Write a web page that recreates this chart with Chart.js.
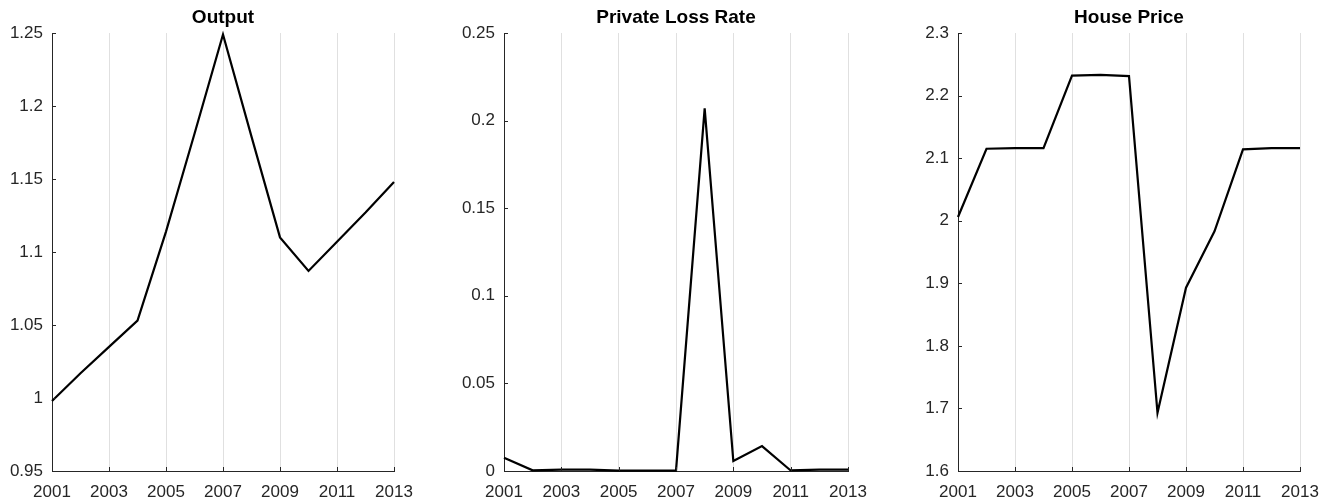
<!DOCTYPE html>
<html>
<head>
<meta charset="utf-8">
<script src="https://cdn.jsdelivr.net/npm/chart.js@4"></script>
<style>
  body { margin: 0; background: #fff; }
  .panel { position: absolute; top: 0; width: 445px; height: 504px; }
</style>
</head>
<body>
<div class="panel" style="left:0px"><canvas id="outputChart" width="445" height="504"></canvas></div>
<div class="panel" style="left:445px"><canvas id="lossChart" width="445" height="504"></canvas></div>
<div class="panel" style="left:890px"><canvas id="houseChart" width="445" height="504"></canvas></div>
<script>
// Data
const years = [2001, 2002, 2003, 2004, 2005, 2006, 2007, 2008, 2009, 2010, 2011, 2012, 2013];
const yearTicks = [2001, 2003, 2005, 2007, 2009, 2011, 2013];

const outputValues = [0.998, 1.017, 1.035, 1.053, 1.114, 1.181, 1.249, 1.179, 1.110, 1.087, 1.107, 1.127, 1.148];
const lossValues = [0.0076, 0.0004, 0.0008, 0.0008, 0.0002, 0.0002, 0.0002, 0.207, 0.0057, 0.0142, 0.0003, 0.0008, 0.0008];
const houseValues = [2.006, 2.115, 2.116, 2.116, 2.232, 2.233, 2.231, 1.693, 1.893, 1.983, 2.114, 2.116, 2.116];

const outputTicks = [0.95, 1, 1.05, 1.1, 1.15, 1.2, 1.25];
const lossTicks = [0, 0.05, 0.1, 0.15, 0.2, 0.25];
const houseTicks = [1.6, 1.7, 1.8, 1.9, 2, 2.1, 2.2, 2.3];

const AXIS_COLOR = '#262626';
const GRID_COLOR = '#e0e0e0';
const FONT = 'Liberation Sans, Arial, Helvetica, sans-serif';

// MATLAB style ticks point into the plot area
const inwardTicks = {
    id: 'inwardTicks',
    afterDraw(chart) {
        const ctx = chart.ctx;
        const xs = chart.scales.x;
        const ys = chart.scales.y;
        const area = chart.chartArea;
        ctx.save();
        ctx.strokeStyle = AXIS_COLOR;
        ctx.lineWidth = 1;
        ctx.beginPath();
        xs.ticks.forEach(t => {
            const px = Math.round(xs.getPixelForValue(t.value)) + 0.5;
            ctx.moveTo(px, area.bottom);
            ctx.lineTo(px, area.bottom - 4);
        });
        ys.ticks.forEach(t => {
            const py = Math.round(ys.getPixelForValue(t.value)) + 0.5;
            ctx.moveTo(area.left, py);
            ctx.lineTo(area.left + 4, py);
        });
        ctx.stroke();
        ctx.restore();
    }
};

function makePanel(canvasId, title, values, ticks, yAxisWidth, rightPad) {
    const ctx = document.getElementById(canvasId).getContext('2d');
    return new Chart(ctx, {
        type: 'line',
        data: {
            datasets: [{
                data: years.map((yr, i) => ({ x: yr, y: values[i] })),
                borderColor: '#000',
                borderWidth: 2.2,
                pointRadius: 0,
                tension: 0,
                fill: false,
                clip: false
            }]
        },
        options: {
            responsive: false,
            animation: false,
            devicePixelRatio: 1,
            layout: {
                padding: { left: 0, right: rightPad, top: 0, bottom: 0 }
            },
            plugins: {
                legend: { display: false },
                tooltip: { enabled: false },
                title: {
                    display: true,
                    text: title,
                    fullSize: false,
                    color: '#000',
                    font: { family: FONT, size: 19, weight: 'bold' },
                    padding: { top: 6, bottom: 4.2 }
                }
            },
            scales: {
                x: {
                    type: 'linear',
                    min: 2001,
                    max: 2013,
                    afterBuildTicks: scale => {
                        scale.ticks = yearTicks.map(v => ({ value: v }));
                    },
                    afterFit: scale => { scale.height = 33; },
                    ticks: {
                        color: AXIS_COLOR,
                        font: { family: FONT, size: 17 },
                        padding: 11,
                        maxRotation: 0,
                        autoSkip: false,
                        callback: v => String(v)
                    },
                    grid: {
                        color: GRID_COLOR,
                        drawTicks: false
                    },
                    border: { color: AXIS_COLOR, width: 1 }
                },
                y: {
                    type: 'linear',
                    min: ticks[0],
                    max: ticks[ticks.length - 1],
                    afterBuildTicks: scale => {
                        scale.ticks = ticks.map(v => ({ value: v }));
                    },
                    afterFit: scale => { scale.width = yAxisWidth; },
                    ticks: {
                        color: AXIS_COLOR,
                        font: { family: FONT, size: 17 },
                        padding: 9,
                        autoSkip: false,
                        callback: v => String(v)
                    },
                    grid: {
                        display: false,
                        drawTicks: false
                    },
                    border: { color: AXIS_COLOR, width: 1 }
                }
            }
        },
        plugins: [inwardTicks]
    });
}

makePanel('outputChart', 'Output', outputValues, outputTicks, 52, 51);
makePanel('lossChart', 'Private Loss Rate', lossValues, lossTicks, 59, 42);
makePanel('houseChart', 'House Price', houseValues, houseTicks, 68, 35);
</script>
</body>
</html>
